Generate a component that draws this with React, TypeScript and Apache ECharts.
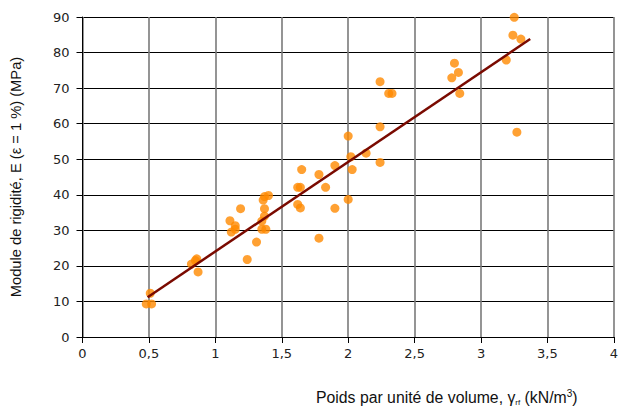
import React, { useEffect, useRef } from "react";
import * as echarts from "echarts";

// Unit weight (kN/m3) of each specimen
const poids: number[] = [
  0.48, 0.52, 0.51, 0.82, 0.86, 0.85, 0.87,
  1.11, 1.15, 1.12, 1.15, 1.19, 1.24, 1.31, 1.37, 1.40, 1.36, 1.37, 1.35, 1.37, 1.35, 1.38,
  1.62, 1.64, 1.65, 1.78, 1.83, 1.62, 1.64, 1.90, 1.78, 1.90,
  2.00, 2.02, 2.135, 2.03, 2.00, 2.24, 2.24, 2.24, 2.305, 2.33,
  2.80, 2.83, 2.78, 2.84, 3.19, 3.24, 3.25, 3.30, 3.27,
];

// Stiffness modulus (MPa) at 1 % strain for the same specimens
const module: number[] = [
  9.3, 9.3, 12.3, 20.5, 22.0, 21.5, 18.3,
  32.7, 31.3, 29.5, 30.3, 36.1, 21.8, 26.7, 39.5, 39.8, 38.5, 36.1, 32.6, 34.0, 30.3, 30.3,
  42.1, 42.1, 47.1, 45.7, 42.1, 37.3, 36.3, 48.2, 27.8, 36.2,
  56.5, 50.7, 51.7, 47.1, 38.7, 59.1, 49.1, 71.8, 68.5, 68.5,
  77.0, 74.4, 72.9, 68.5, 77.9, 84.9, 89.9, 83.8, 57.6,
];

// End points of the fitted trend line
const trendX: number[] = [0.49, 3.37];
const trendY: number[] = [11.2, 83.8];

const xTicks: string[] = ["0", "0,5", "1", "1,5", "2", "2,5", "3", "3,5", "4"];

export default function App() {
  const ref = useRef<HTMLDivElement>(null);

  useEffect(() => {
    document.body.style.margin = "0";
    if (!ref.current) return;
    const chart = echarts.init(ref.current, null, { renderer: "svg" });
    const font = "Liberation Sans, Arial, sans-serif";
    const base = { fontFamily: font, fill: "#111", lineHeight: 18 };
    chart.setOption({
      animation: false,
      backgroundColor: "#ffffff",
      grid: { left: 82.5, top: 17, right: 6, bottom: 72, containLabel: false },
      xAxis: {
        type: "value",
        min: 0,
        max: 4,
        interval: 0.5,
        axisLine: { show: true, onZero: false, lineStyle: { color: "#000", width: 1 } },
        axisTick: { show: true, inside: false, length: 6, lineStyle: { color: "#000" } },
        axisLabel: {
          color: "#222",
          fontFamily: "DejaVu Sans, sans-serif",
          fontSize: 13,
          margin: 10,
          formatter: (v: number) => xTicks[Math.round(v / 0.5)] ?? "",
        },
        splitLine: { show: true, lineStyle: { color: "#7a7a7a", width: 1.6 } },
      },
      yAxis: {
        type: "value",
        min: 0,
        max: 90,
        interval: 10,
        name: "Module de rigidité, E (ε = 1 %) (MPa)",
        nameLocation: "middle",
        nameGap: 59,
        nameTextStyle: { color: "#111", fontFamily: font, fontSize: 14.7 },
        axisLine: { show: true, lineStyle: { color: "#000", width: 1 } },
        axisTick: { show: true, inside: false, length: 6, lineStyle: { color: "#000" } },
        axisLabel: {
          color: "#222",
          fontFamily: "DejaVu Sans, sans-serif",
          fontSize: 13,
          margin: 13,
        },
        splitLine: { show: true, lineStyle: { color: "#000", width: 1 } },
      },
      graphic: [
        {
          type: "text",
          left: 316,
          top: 388,
          style: {
            text: "{a|Poids par unité de volume, }{a|γ}{s|rf}{a| (kN/m}{p|3}{a|)}",
            rich: {
              a: { ...base, fontSize: 15.8, verticalAlign: "middle" },
              s: { ...base, fontSize: 8, verticalAlign: "bottom" },
              p: { ...base, fontSize: 10, verticalAlign: "top" },
            },
          },
        },
      ],
      series: [
        {
          type: "scatter",
          data: poids.map((x, i) => [x, module[i]]),
          symbol: "circle",
          symbolSize: 9,
          itemStyle: { color: "#ff8a00" },
          z: 2,
        },
        {
          type: "line",
          data: trendX.map((x, i) => [x, trendY[i]]),
          showSymbol: false,
          symbol: "none",
          lineStyle: { color: "#7a0a00", width: 2.5 },
          z: 3,
        },
      ],
    });
    return () => chart.dispose();
  }, []);

  return <div ref={ref} style={{ width: 621, height: 409 }} />;
}
